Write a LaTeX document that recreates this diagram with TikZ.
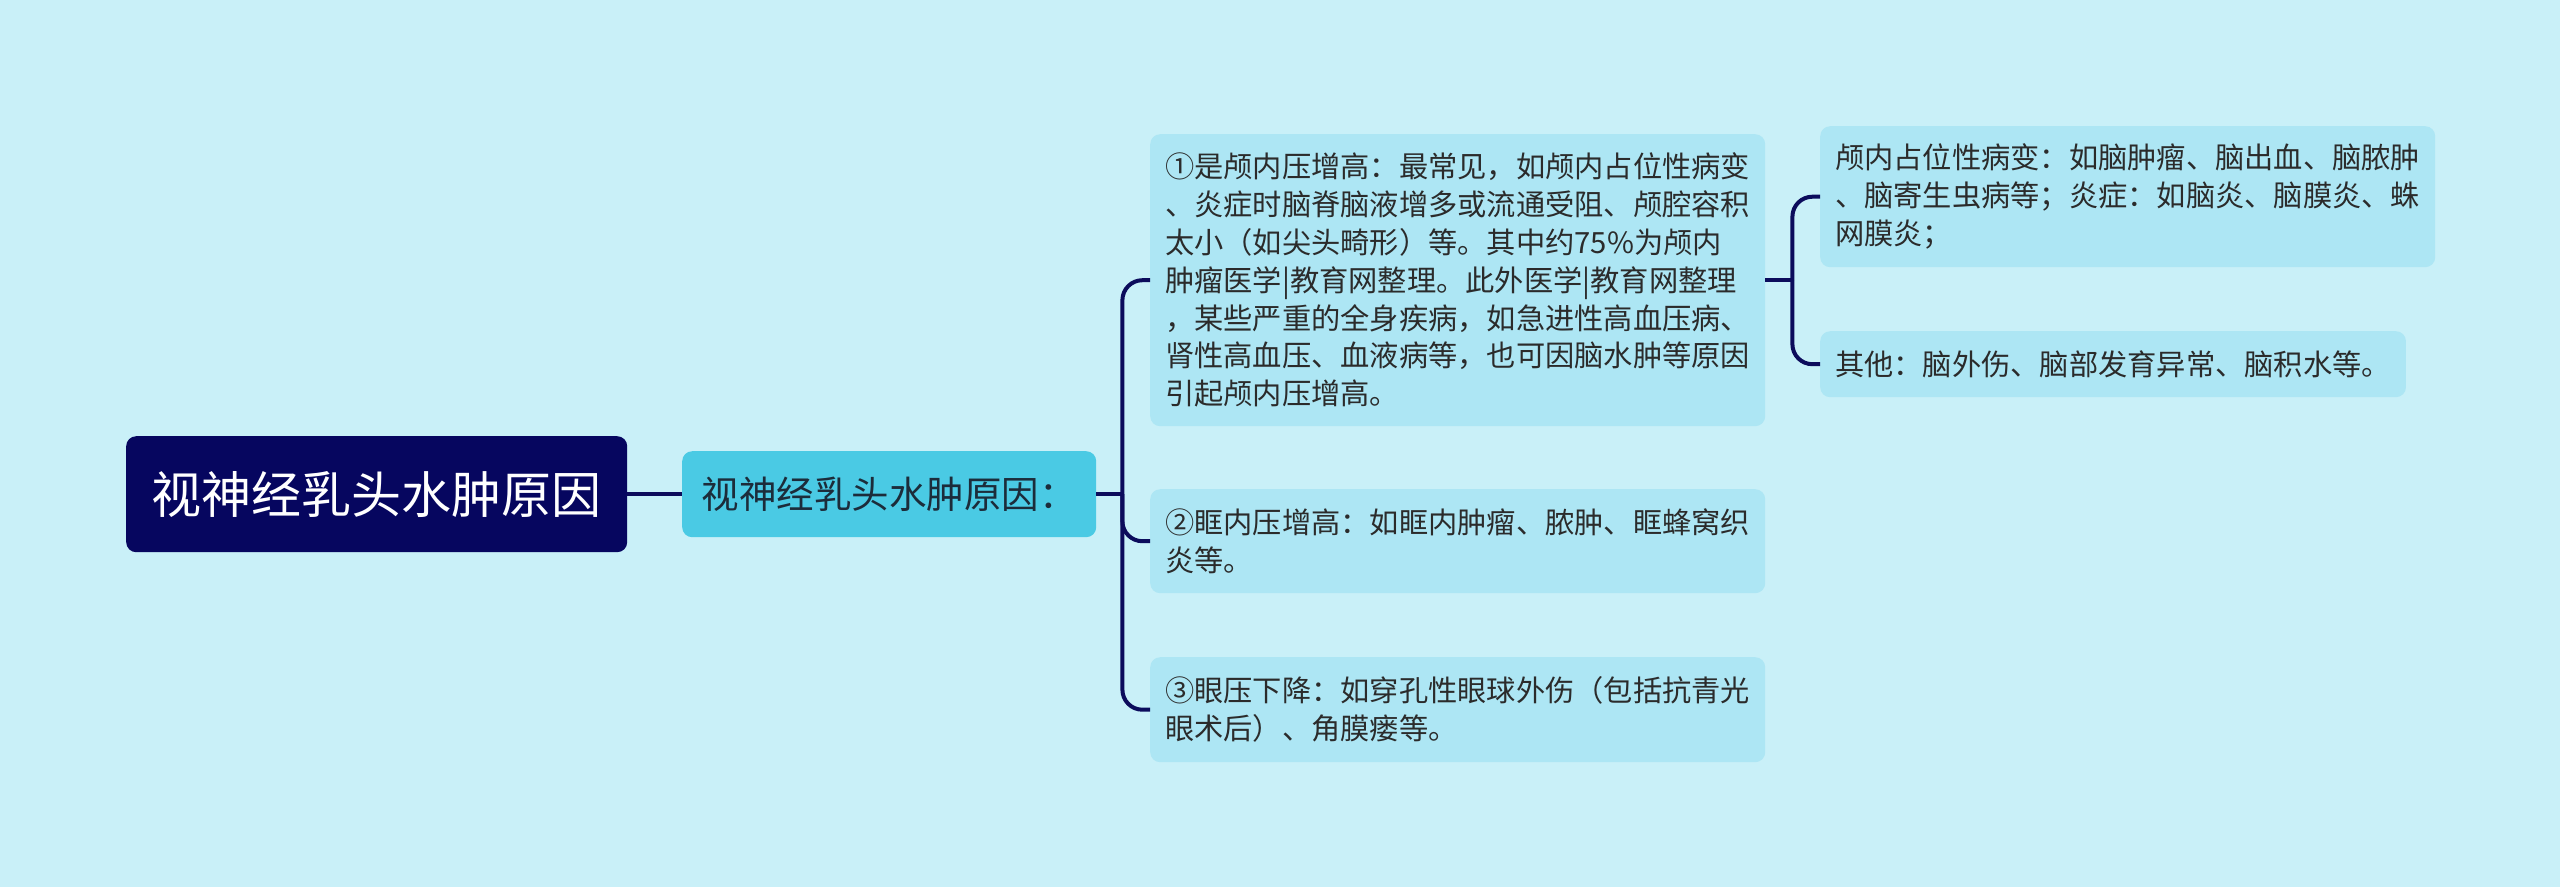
\documentclass[tikz,border=0pt]{standalone}
\usepackage{fontspec}
\setmainfont{Noto Sans CJK SC}
\definecolor{bgc}{HTML}{C9F0F8}
\definecolor{rootc}{HTML}{06065F}
\definecolor{midc}{HTML}{4ACAE4}
\definecolor{leafc}{HTML}{ADE6F4}
\definecolor{linec}{HTML}{0C0C5C}
\definecolor{txtc}{HTML}{2B2B2B}
\definecolor{midtxt}{HTML}{1C2C3A}
\begin{document}
\begin{tikzpicture}[x=1pt,y=-1pt,
  rootbox/.style={fill=rootc, rounded corners=10pt, text=white, anchor=north west, inner sep=0pt,
    font=\fontsize{50pt}{60pt}\selectfont},
  midbox/.style={fill=midc, rounded corners=10pt, text=midtxt, anchor=north west, inner sep=0pt,
    font=\fontsize{37.5pt}{45pt}\selectfont},
  leafbox/.style={fill=leafc, rounded corners=10pt, text=txtc, anchor=north west, align=left,
    inner xsep=15pt, inner ysep=0pt, font=\fontsize{29.25pt}{37.8pt}\selectfont},
  conn/.style={draw=linec, line width=4pt}]
\fill[bgc] (0,0) rectangle (2560,887);
\useasboundingbox (0,0) rectangle (2560,887);

\node[rootbox, minimum width=501pt, minimum height=116pt] (root) at (126,436) {视神经乳头水肿原因};
\node[midbox, minimum width=414pt, minimum height=86pt] (mid) at (682,451) {视神经乳头水肿原因：};

\node[leafbox, minimum width=615pt, minimum height=292pt] (c1) at (1150,134)
  {①是颅内压增高：最常见，如颅内占位性病变\\、炎症时脑脊脑液增多或流通受阻、颅腔容积\\太小（如尖头畸形）等。其中约75\%为颅内\\肿瘤医学|教育网整理。此外医学|教育网整理\\，某些严重的全身疾病，如急进性高血压病、\\肾性高血压、血液病等，也可因脑水肿等原因\\引起颅内压增高。};
\node[leafbox, minimum width=615pt, minimum height=104pt] (c2) at (1150,489)
  {②眶内压增高：如眶内肿瘤、脓肿、眶蜂窝织\\炎等。};
\node[leafbox, minimum width=615pt, minimum height=105pt] (c3) at (1150,657)
  {③眼压下降：如穿孔性眼球外伤（包括抗青光\\眼术后）、角膜瘘等。};

\node[leafbox, minimum width=614pt, minimum height=141pt] (g1) at (1820,126)
  {颅内占位性病变：如脑肿瘤、脑出血、脑脓肿\\、脑寄生虫病等；炎症：如脑炎、脑膜炎、蛛\\网膜炎；};
\node[leafbox, minimum width=585pt, minimum height=66pt] (g2) at (1820,331)
  {其他：脑外伤、脑部发育异常、脑积水等。};

\draw[conn] (root.east) -- (mid.west);
\coordinate (b1) at ([xshift=26pt]mid.east);
\draw[conn] (mid.east) -- (b1);
\draw[conn, rounded corners=20pt] (b1) |- (c1.west);
\draw[conn, rounded corners=20pt] (b1) |- (c2.west);
\draw[conn, rounded corners=20pt] (b1) |- (c3.west);

\coordinate (b2) at ([xshift=27pt]c1.east);
\draw[conn] (c1.east) -- (b2);
\draw[conn, rounded corners=20pt] (b2) |- (g1.west);
\draw[conn, rounded corners=20pt] (b2) |- (g2.west);
\end{tikzpicture}
\end{document}
